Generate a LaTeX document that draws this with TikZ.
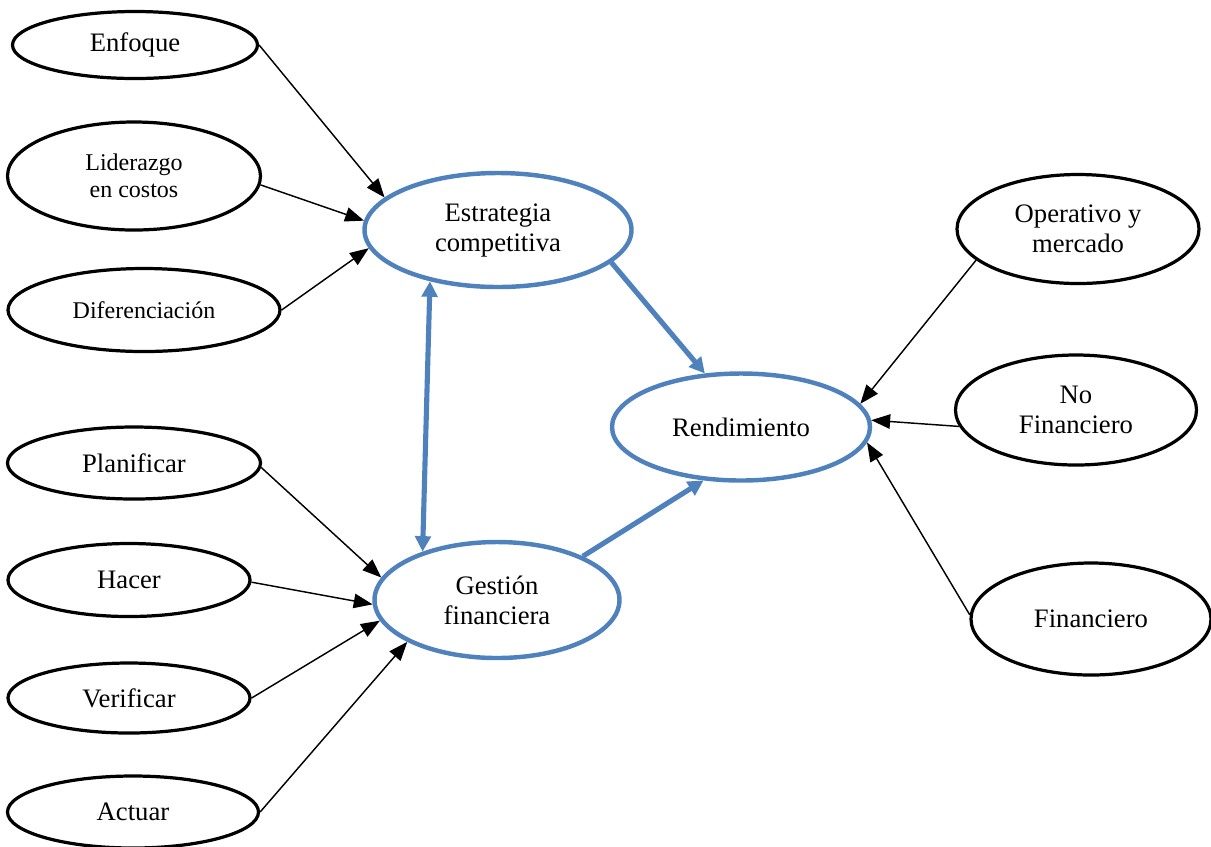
\documentclass[tikz,border=0pt]{standalone}
\usepackage{fontspec}
\setmainfont{Liberation Serif}
\usetikzlibrary{shapes,arrows.meta}
\definecolor{offblue}{RGB}{79,129,189}
\tikzset{
myoval/.style 2 args={
  ellipse,
  draw=black,
  line width=1.45pt,
  inner sep=0pt,
  align=center,
  font=\fontsize{12}{13.5}\selectfont,
  minimum width=#1*0.45pt,
  minimum height=#2*0.45pt
  }
}
\tikzset{
  bluoval/.style 2 args={myoval={#1}{#2}, draw=offblue, line width=2pt},
  smalltext/.style={font=\fontsize{10.8}{12}\selectfont},
  thinarr/.style={-{Triangle[length=8.5pt,width=6.5pt]}, line width=0.65pt},
  thickarr/.style={-{Triangle[length=7pt,width=7pt]}, draw=offblue, line width=2.3pt}
}

\begin{document}
\begin{tikzpicture}[x=0.45pt,y=-0.45pt]
\useasboundingbox (0,0) rectangle (1211,846);

% left group, top
\node[myoval={245}{67}] (enfoque) at (135,45) {Enfoque};
\node[myoval={253}{108}, smalltext] (liderazgo) at (134,176) {Liderazgo\\en costos};
\node[myoval={272}{83}, smalltext] (diferencia) at (144,310) {Diferenciación};

% left group, bottom
\node[myoval={253}{72}] (planificar) at (134,463) {Planificar};
\node[myoval={242}{73}] (hacer) at (129,580) {Hacer};
\node[myoval={242}{70}] (verificar) at (129,698) {Verificar};
\node[myoval={251}{72}] (actuar) at (133,812) {Actuar};

% centre
\node[bluoval={267}{114}] (estrategia) at (498,230) {Estrategia\\competitiva};
\node[bluoval={245}{116}] (gestion) at (497,600) {Gestión\\financiera};
\node[bluoval={258}{107}] (rendimiento) at (741,427) {Rendimiento};

% right group
\node[myoval={242}{109}] (operativo) at (1078,229) {Operativo y\\mercado};
\node[myoval={241}{110}] (nofin) at (1076,410) {No\\Financiero};
\node[myoval={240}{112}] (financiero) at (1091,619) {Financiero};

\draw[thinarr] (enfoque.east) -- (estrategia.164);
\draw[thinarr] (liderazgo.-4) -- (estrategia.176);
\draw[thinarr] (diferencia.east) -- (estrategia.-172);

\draw[thinarr] (planificar.-2) -- (gestion.169);
\draw[thinarr] (hacer.-1) -- (gestion.182);
\draw[thinarr] (verificar.east) -- (gestion.190);
\draw[thinarr] (actuar.east) -- (gestion.205);

\draw[thinarr] (operativo.197) -- (rendimiento.11);
\draw[thinarr] (nofin.188) -- (rendimiento.3);
\draw[thinarr] (financiero.178) -- (rendimiento.-7);

\draw[thickarr] (estrategia.-16) -- (rendimiento.124);
\draw[thickarr] (gestion.27) -- (rendimiento.235);
\draw[thickarr, {Triangle[length=7pt,width=7pt]}-{Triangle[length=7pt,width=7pt]}] (estrategia.-143) -- (gestion.147);
\end{tikzpicture}
\end{document}
